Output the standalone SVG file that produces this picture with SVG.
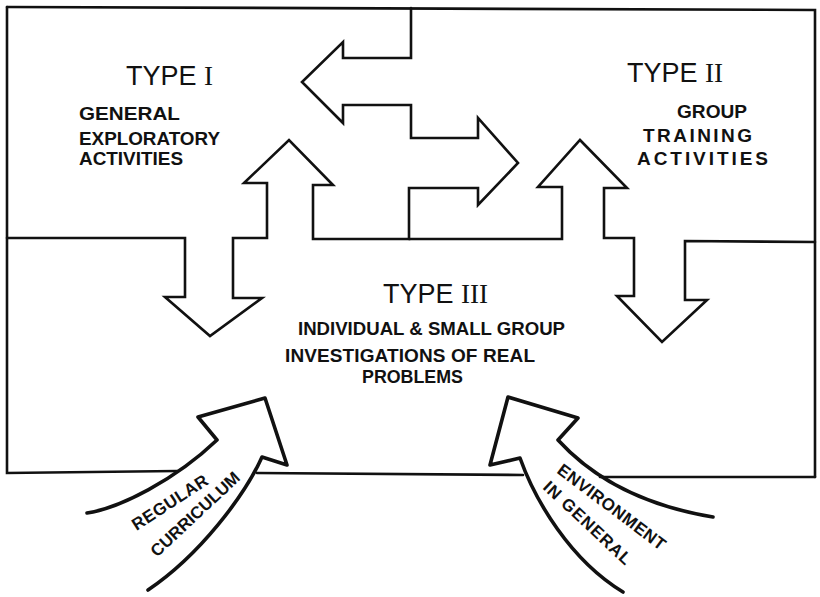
<svg xmlns="http://www.w3.org/2000/svg" width="820" height="597" viewBox="0 0 820 597">
  <style>
    .ln { fill: none; stroke: #111; stroke-width: 2.6; stroke-linejoin: miter; stroke-linecap: round; }
    .arr { fill: none; stroke: #111; stroke-width: 3.6; stroke-linejoin: round; stroke-linecap: round; }
    .title { font-family: "Liberation Sans", Arial, sans-serif; font-size: 27px; fill: #111; }
    .num { font-family: "Liberation Serif", "Times New Roman", serif; }
    .lab { font-family: "Liberation Sans", Arial, sans-serif; font-size: 19px; font-weight: bold; fill: #111; }
    .cur { font-family: "Liberation Sans", Arial, sans-serif; font-size: 17px; font-weight: bold; fill: #111; }
  </style>
  <rect width="820" height="597" fill="#fff"/>

  <g id="frame">
    <path class="ln" d="M7,7 L815,10 L815,477"/>
    <path class="ln" d="M7,7 L7,473 L177,471"/>
    <path class="ln" d="M257,473 L523,475"/>
    <path class="ln" d="M600,477 L815,477"/>
  </g>

  <g id="connectors">
    <path class="ln" d="M7,238 L185,238 L185,297 L165,297 L210,336 L262,298 L233,298 L233,238 L267,238 L267,183 L244,183 L289,140 L333,185 L313,185 L313,239 L409,239 L409,188 L478,188 L478,205 L518,163 L478,118 L478,138 L411,138 L411,105 L343,105 L343,123 L302,82 L343,42 L343,58 L411,58 L411,8"/>
    <path class="ln" d="M409,239 L562,239 L562,187 L538,187 L580,140 L627,188 L604,188 L604,238 L634,238 L634,296 L617,296 L662,342 L707,300 L685,300 L685,241 L815,242"/>
  </g>

  <g id="type1">
    <text class="title" x="126" y="85">TYPE <tspan class="num">I</tspan></text>
    <text class="lab" x="79" y="120" textLength="101" lengthAdjust="spacingAndGlyphs">GENERAL</text>
    <text class="lab" x="79" y="145" textLength="141" lengthAdjust="spacingAndGlyphs">EXPLORATORY</text>
    <text class="lab" x="79" y="165" textLength="104" lengthAdjust="spacingAndGlyphs">ACTIVITIES</text>
  </g>

  <g id="type2">
    <text class="title" x="627" y="82">TYPE <tspan class="num">II</tspan></text>
    <text class="lab" x="677" y="118" textLength="70" lengthAdjust="spacingAndGlyphs">GROUP</text>
    <text class="lab" x="643" y="142" textLength="109" lengthAdjust="spacing">TRAINING</text>
    <text class="lab" x="637" y="165" textLength="131" lengthAdjust="spacing">ACTIVITIES</text>
  </g>

  <g id="type3">
    <text class="title" x="383" y="303">TYPE <tspan class="num">III</tspan></text>
    <text class="lab" x="298" y="335" font-size="18" textLength="267" lengthAdjust="spacingAndGlyphs">INDIVIDUAL &amp; SMALL GROUP</text>
    <text class="lab" x="285" y="362" font-size="18" textLength="250" lengthAdjust="spacing">INVESTIGATIONS OF REAL</text>
    <text class="lab" x="362" y="383" font-size="18" textLength="101" lengthAdjust="spacingAndGlyphs">PROBLEMS</text>
  </g>

  <g id="regular-curriculum">
    <path class="arr" d="M87,513 C120,508 175,480 217,440 L198,417 L265,398 L287,465 L262,457 C245,495 200,555 148,590"/>
    <text class="cur" transform="translate(170,502) rotate(-33)" text-anchor="middle" dy="6" letter-spacing="0.5">REGULAR</text>
    <text class="cur" transform="translate(195,514) rotate(-43)" text-anchor="middle" dy="6" font-size="15.5">CURRICULUM</text>
  </g>

  <g id="environment-in-general">
    <path class="arr" d="M713,517 C640,505 590,475 558,440 L578,418 L508,397 L490,465 L520,458 C535,500 570,560 623,592"/>
    <text class="cur" transform="translate(612,507) rotate(37)" text-anchor="middle" dy="6" font-size="17.5" letter-spacing="0.5">ENVIRONMENT</text>
    <text class="cur" transform="translate(588,523) rotate(43)" text-anchor="middle" dy="6" font-size="17.5" letter-spacing="1">IN GENERAL</text>
  </g>
</svg>
